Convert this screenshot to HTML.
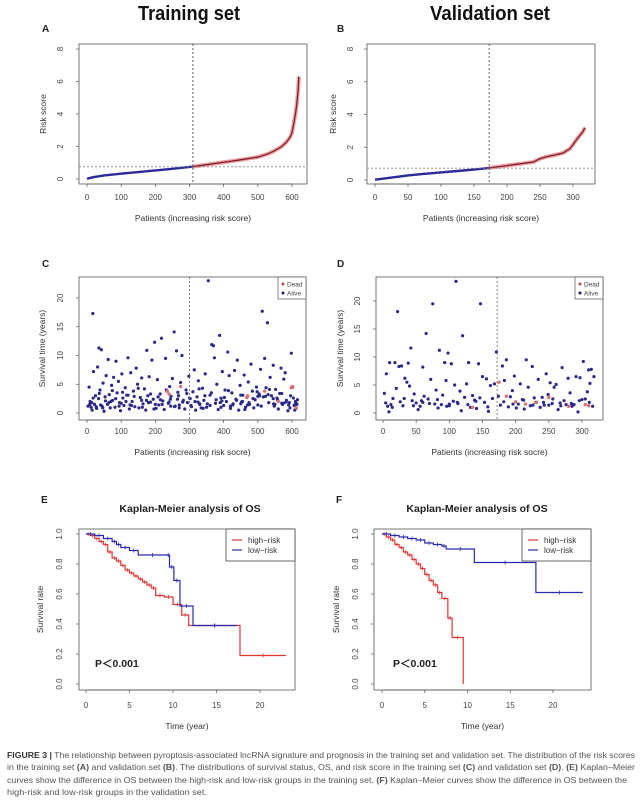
<!DOCTYPE html>
<html><head><meta charset="utf-8"><style>
html,body{margin:0;padding:0;background:#fff;}
svg{display:block;font-family:"Liberation Sans",Arial,sans-serif;}
</style></head><body>
<svg id="fig" width="643" height="800" viewBox="0 0 643 800" xmlns="http://www.w3.org/2000/svg">
<text x="189" y="20" font-size="20" font-weight="bold" text-anchor="middle" textLength="102" lengthAdjust="spacingAndGlyphs" fill="#111">Training set</text>
<text x="490" y="20" font-size="20" font-weight="bold" text-anchor="middle" textLength="120" lengthAdjust="spacingAndGlyphs" fill="#111">Validation set</text>
<g id="layer"></g>
<g font-size="8.6" fill="#555">
<text x="7" y="758" textLength="628" lengthAdjust="spacingAndGlyphs"><tspan font-weight="bold" fill="#333">FIGURE 3 |</tspan> The relationship between pyroptosis-associated lncRNA signature and prognosis in the training set and validation set. The distribution of the risk scores</text>
<text x="7" y="770" textLength="628" lengthAdjust="spacingAndGlyphs">in the training set <tspan font-weight="bold">(A)</tspan> and validation set <tspan font-weight="bold">(B)</tspan>. The distributions of survival status, OS, and risk score in the training set <tspan font-weight="bold">(C)</tspan> and validation set <tspan font-weight="bold">(D)</tspan>. <tspan font-weight="bold">(E)</tspan> Kaplan–Meier</text>
<text x="7" y="783" textLength="620" lengthAdjust="spacingAndGlyphs">curves show the difference in OS between the high-risk and low-risk groups in the training set. <tspan font-weight="bold">(F)</tspan> Kaplan–Meier curves show the difference in OS between the</text>
<text x="7" y="795" textLength="200" lengthAdjust="spacingAndGlyphs">high-risk and low-risk groups in the validation set.</text>
</g>
</svg>
<script>
// ---- Panel A/B: risk score curves ----
const aIdx = [0,20,50,100,150,200,250,300,310,350,400,450,500,530,550,570,585,595,600,605,610,614,618,620];
const aVal = [0.02,0.12,0.22,0.33,0.43,0.53,0.63,0.74,0.76,0.88,1.03,1.18,1.35,1.55,1.75,2.0,2.3,2.6,2.85,3.4,4.0,4.6,5.5,6.3];
const aCut = 310, aThr = 0.75;
const bIdx = [0,25,50,75,100,125,150,173,200,225,240,250,260,275,285,295,300,305,310,315,318];
const bVal = [0.02,0.15,0.28,0.38,0.46,0.55,0.64,0.74,0.88,1.02,1.1,1.3,1.42,1.55,1.65,1.9,2.15,2.45,2.7,2.95,3.2];
const bCut = 173, bThr = 0.72;
const riskTicksY = [0,2,4,6,8];
const aTicksX = [0,100,200,300,400,500,600];
const bTicksX = [0,50,100,150,200,250,300];

// ---- Panel C: survival scatter (training) ----
const cAliveX = [3,6,9,12,15,17,19,22,25,28, 31,34,35,38,42,44,47,50,53,56, 60,62,65,68,72,75,78,82,85,88, 92,95,98,102,105,108,112,116,120,124,
 128,132,136,140,144,148,152,156,160,164, 168,172,175,178,182,186,190,194,198,202, 206,210,214,218,222,226,230,234,238,242,
 246,250,255,258,262,266,270,274,278,282, 286,290,294,298,302,306,310,314,318,322, 326,330,334,338,342,346,350,355,360,365,
 370,373,376,380,384,388,392,396,400,404, 408,412,416,420,424,428,432,436,440,444, 448,452,456,460,464,468,472,476,480,484,
 488,492,496,500,504,508,513,516,520,524, 528,532,536,540,545,548,552,556,560,564, 568,572,576,580,584,588,592,596,598,602,
 606,608,610,612,614,616,14,40,70,100, 130,160,200,240,270,300,330,360,390,420, 450,470,500,530,550,570,590,610,120,180,
 215,265,325,345,395,455,505,545,575,245,
 8,18,27,36,46,54,64,74,84,94, 104,114,126,138,150,162,174,186,196,208, 220,232,244,256,268,280,292,304,316,328,
 340,352,364,378,392,402,414,426,438,450, 462,474,486,498,510,522,534,546,558,570, 582,594,604,614];
const cAliveY = [1.2,4.5,2.0,1.0,0.5,17.3,7.2,1.5,3.0,0.8, 8.0,2.5,11.3,4.0,11.0,1.2,5.2,0.3,2.8,6.5, 1.5,9.3,3.2,0.9,4.8,2.2,6.2,1.0,9.0,3.5, 5.5,1.8,0.4,6.8,2.6,1.3,4.4,3.1,9.6,0.7,
 7.0,2.0,3.8,1.1,7.8,5.0,0.9,2.7,6.1,1.6, 4.2,0.5,10.9,3.0,6.3,1.9,9.2,2.4,12.3,0.8, 5.8,1.4,3.3,13.0,2.1,0.6,9.5,3.8,1.7,4.6,
 2.9,6.0,14.1,1.2,10.8,3.6,0.9,5.3,10.0,2.2, 0.7,4.0,1.8,6.4,2.5,1.1,3.7,7.5,0.5,2.8, 5.6,1.5,0.9,4.3,2.2,6.8,1.0,23.0,3.1,11.9,
 11.7,9.6,1.7,5.0,0.6,13.5,2.6,7.2,1.3,4.0, 2.0,10.6,6.5,0.8,3.5,1.6,7.4,2.4,9.2,0.5, 4.8,1.9,3.1,6.6,1.0,2.7,5.4,1.5,8.5,3.8,
 0.9,2.3,4.5,1.4,3.3,7.6,17.7,2.8,9.5,4.4, 15.7,1.8,6.2,3.0,8.3,1.2,4.1,2.6,0.7,3.4, 7.8,1.5,5.9,7.0,2.2,0.4,1.8,3.0,10.4,4.5,
 1.3,0.5,2.0,0.8,1.6,2.3,1.8,1.4,2.0,1.7, 1.3,2.2,1.5,1.9,1.4,2.6,1.6,1.3,1.8,1.2, 1.6,1.4,2.9,3.2,1.5,1.7,1.4,1.6,3.1,1.8,
 2.3,2.4,1.9,3.0,2.1,2.0,3.0,2.5,1.7,1.2,
 1.5,2.6,1.1,3.4,0.9,2.1,1.8,3.9,2.5,1.2, 3.6,2.0,1.4,2.9,4.3,1.0,2.2,3.3,0.7,2.8, 1.5,4.0,2.4,1.1,3.0,1.9,3.4,1.3,2.0,4.2,
 0.8,1.6,3.5,2.3,1.0,2.7,3.9,1.4,2.2,3.1, 0.6,1.8,2.5,3.7,1.2,2.9,4.1,1.6,2.3,3.4, 1.9,0.9,2.6,1.5];
const cDeadX = [235,240,274,468,470,598,602,612,520,560];
const cDeadY = [3.8,3.3,4.6,2.7,3.0,4.4,4.6,0.9,3.8,2.0];
const cCut = 300;
const survTicksY = [0,5,10,15,20];

// ---- Panel D: survival scatter (validation) ----
const dAliveX = [2,5,7,9,10,12,15,18,20,22, 24,26,28,30,33,36,38,40,42,44, 47,50,53,56,60,62,65,68,72,75, 78,80,83,85,88,90,93,95,98,100,
 103,106,108,110,113,116,118,120,123,126, 129,132,135,138,141,144,147,150,153,156, 159,162,165,168,171,174,177,180,183,186,
 189,192,195,198,201,204,207,210,213,216, 219,222,225,228,231,234,237,240,243,246, 249,252,255,258,261,264,267,270,273,276,
 279,282,285,288,291,294,297,300,302,305, 308,310,312,314,316,318,140,60,100,250,
 4,14,32,46,58,70,82,96,112,128, 146,158,182,196,212,226,242,256,268,284, 296,311];
const dAliveY = [3.5,7.0,1.2,0.2,9.0,1.5,2.6,9.0,4.4,18.1, 8.3,2.0,8.4,1.3,6.2,5.5,8.9,4.8,11.6,2.2, 3.4,1.8,0.6,1.2,8.2,3.0,14.2,2.5,6.0,19.5, 1.6,4.1,0.9,11.2,1.5,3.2,9.0,5.8,10.7,1.3,
 8.8,2.1,5.0,23.5,1.7,3.9,0.4,13.8,2.8,5.2, 9.0,1.0,3.1,2.3,0.8,8.8,19.5,6.5,1.9,6.1, 0.3,4.9,2.6,5.2,10.9,3.0,1.4,8.4,5.8,9.5,
 1.1,2.9,4.0,6.6,0.9,1.6,5.2,2.4,0.7,9.5, 4.6,1.3,8.3,2.7,1.9,6.0,1.0,2.8,1.4,7.0, 3.3,5.4,1.7,4.6,5.1,0.6,1.8,8.1,2.2,1.5,
 6.2,3.6,1.2,1.5,6.5,0.2,6.3,2.4,9.2,2.5, 3.8,7.7,5.3,7.8,1.2,6.5,2.1,1.9,1.6,1.4,
 1.8,1.0,2.6,1.3,2.2,1.7,2.4,1.2,1.9,1.5, 2.7,1.1,2.0,1.6,2.3,1.4,1.9,2.5,1.3,1.7, 2.2,1.9];
const dDeadX = [175,200,215,250,305,310,186,230,280,135];
const dDeadY = [5.5,2.0,1.6,2.8,1.5,1.3,3.0,1.9,1.2,1.0];
const dCut = 172;
const dTicksX = [0,50,100,150,200,250,300];

// ---- Panel E/F: Kaplan-Meier ----
const eHighT = [0,0.5,1,1.5,2,2.5,3,3.5,4,4.5,5,5.5,6,6.5,7,7.5,8,9,10,11,11.8,17.7,23];
const eHighS = [1,0.99,0.97,0.95,0.93,0.88,0.84,0.82,0.79,0.76,0.74,0.72,0.70,0.68,0.66,0.64,0.59,0.58,0.53,0.46,0.39,0.19,0.19];
const eLowT = [0,1,2,3,3.5,4,5,6,9.3,9.6,10.1,10.8,12.3,17.3];
const eLowS = [1,0.99,0.97,0.95,0.93,0.91,0.89,0.86,0.86,0.78,0.69,0.52,0.39,0.39];
const fHighT = [0,0.5,1,1.5,2,2.5,3,3.5,4,4.5,5,5.5,6,6.5,7,7.7,8.2,9.5];
const fHighS = [1,0.98,0.96,0.93,0.91,0.88,0.86,0.83,0.80,0.77,0.73,0.69,0.66,0.61,0.57,0.44,0.31,0];
const fLowT = [0,1,2,3,4,5,6,7,7.5,10.8,18,23.5];
const fLowS = [1,0.99,0.98,0.97,0.96,0.94,0.93,0.92,0.90,0.81,0.61,0.61];
const kmTicksX = [0,5,10,15,20];
const kmTicksY = [0,0.2,0.4,0.6,0.8,1.0];
const kmTickLabels = ["0.0","0.2","0.4","0.6","0.8","1.0"];

const NS = "http://www.w3.org/2000/svg";
const layer = document.getElementById('layer');
function mk(tag, attrs, parent, txt){
  const e = document.createElementNS(NS, tag);
  for (const k in attrs) e.setAttribute(k, attrs[k]);
  if (txt !== undefined) e.textContent = txt;
  (parent || layer).appendChild(e);
  return e;
}
function lin(d0,d1,r0,r1){ return v => r0 + (v-d0)*(r1-r0)/(d1-d0); }

function frame(name, box, sx, sy, xt, yt, ylabels, xtitle, ytitle, letter, tickY, ytitleX, ytickX){
  const g = mk('g', {});
  
  
  const r = mk('rect', {x:box.l, y:box.t, width:box.r-box.l, height:box.b-box.t, fill:'none', stroke:'#555', 'stroke-width':0.8}, g);
  
  
  const xa = mk('g', {fill:'#444', 'font-size':8}, g);
  
  
  mk('line', {x1:sx(xt[0]), x2:sx(xt[xt.length-1]), y1:box.b, y2:box.b, stroke:'#555','stroke-width':0.7}, xa);
  xt.forEach(v => {
    mk('line', {x1:sx(v), x2:sx(v), y1:box.b, y2:box.b+3, stroke:'#555','stroke-width':0.7}, xa);
    mk('text', {x:sx(v), y:tickY, 'text-anchor':'middle'}, xa, String(v));
  });
  const ya = mk('g', {fill:'#444', 'font-size':8}, g);
  
  
  yt.forEach((v,i) => {
    mk('line', {x1:box.l-3, x2:box.l, y1:sy(v), y2:sy(v), stroke:'#555','stroke-width':0.7}, ya);
    mk('text', {x:ytickX, y:sy(v), 'text-anchor':'middle', transform:`rotate(-90 ${ytickX} ${sy(v)})`}, ya, ylabels ? ylabels[i] : String(v));
  });
  const xtl = mk('text', {x:(box.l+box.r)/2, y:tickY+21, 'text-anchor':'middle', 'font-size':8.5, fill:'#333'}, g, xtitle);
  
  
  const cy = (box.t+box.b)/2;
  const ytl = mk('text', {x:ytitleX, y:cy, 'text-anchor':'middle', 'font-size':8.5, fill:'#333', transform:`rotate(-90 ${ytitleX} ${cy})`}, g, ytitle);
  
  
  const lt = mk('text', {x:letter[0], y:letter[1], 'font-size':10, 'font-weight':'bold', fill:'#222'}, g, letter[2]);
  
  
  return g;
}

function riskPanel(name, box, xmax0, xmax1, idx, val, cut, thr, xt, letter, ytX, ytkX){
  const sx = lin(xmax0[0], xmax0[1], xmax1[0], xmax1[1]);
  const sy = lin(0, 8, box.b0, box.b8);
  const g = frame(name, box, sx, sy, xt, riskTicksY, null, 'Patients (increasing risk score)', 'Risk score', letter, 200, ytX, ytkX);
  const low = [], high = [];
  idx.forEach((v,i) => { const p = sx(v)+','+sy(val[i]); if (v <= cut) low.push(p); if (v >= cut) high.push(p); });
  const h = mk('polyline', {points:high.join(' '), fill:'none', stroke:'#f2a0a0', 'stroke-width':4, 'stroke-linejoin':'round'}, g);
  
  
  mk('polyline', {points:high.join(' '), fill:'none', stroke:'#7a2030', 'stroke-width':1.3}, g);
  const l = mk('polyline', {points:low.join(' '), fill:'none', stroke:'#2a2a9a', 'stroke-width':2.4, 'stroke-linejoin':'round'}, g);
  
  
  const hl = mk('line', {x1:box.l, x2:box.r, y1:sy(thr), y2:sy(thr), stroke:'#888', 'stroke-dasharray':'2,2', 'stroke-width':0.9}, g);
  
  
  const vl = mk('line', {x1:sx(cut), x2:sx(cut), y1:box.t, y2:box.b, stroke:'#555', 'stroke-dasharray':'2,2', 'stroke-width':0.9}, g);
  
  
}
riskPanel('panel-a-risk-score', {l:79,r:307,t:44,b:184,b0:179,b8:49}, [0,600], [87,292], aIdx, aVal, aCut, aThr, aTicksX, [42,32,'A'], 46, 63);
riskPanel('panel-b-risk-score', {l:367,r:595,t:44,b:184,b0:180,b8:49}, [0,300], [375,573], bIdx, bVal, bCut, bThr, bTicksX, [337,32,'B'], 336, 353);

function scatterPanel(name, box, xd, xr, ys, ax, ay, dx, dy, cut, xt, letter, ytX, ytkX, leg){
  const sx = lin(xd[0], xd[1], xr[0], xr[1]);
  const sy = lin(0, 20, ys[0], ys[1]);
  const g = frame(name, box, sx, sy, xt, survTicksY, null, 'Patients (increasing risk socre)', 'Survival time (years)', letter, 434, ytX, ytkX);
  ax.forEach((v,i) => {
    const c = mk('circle', {cx:sx(v), cy:sy(ay[i]), r:1.6, fill:'#2b2a8a'}, g);
    
    
  });
  dx.forEach((v,i) => {
    const c = mk('circle', {cx:sx(v), cy:sy(dy[i]), r:1.7, fill:'#e07070'}, g);
    
    
  });
  const vl = mk('line', {x1:sx(cut), x2:sx(cut), y1:box.t, y2:box.b, stroke:'#777', 'stroke-dasharray':'2,2', 'stroke-width':0.9}, g);
  
  
  const lg = mk('g', {}, g);
  
  
  mk('rect', {x:leg, y:box.t, width:box.r-leg, height:22, fill:'#fff', stroke:'#555', 'stroke-width':0.7}, lg);
  mk('circle', {cx:leg+5, cy:box.t+7, r:1.5, fill:'#c05050'}, lg);
  mk('text', {x:leg+9, y:box.t+9.5, 'font-size':6.5, fill:'#444'}, lg, 'Dead');
  mk('circle', {cx:leg+5, cy:box.t+16, r:1.5, fill:'#1d1d6a'}, lg);
  mk('text', {x:leg+9, y:box.t+18.5, 'font-size':6.5, fill:'#444'}, lg, 'Alive');
}
scatterPanel('panel-c-survival-status', {l:79,r:306,t:277,b:420}, [0,600], [87,292], [413,298], cAliveX, cAliveY, cDeadX, cDeadY, cCut, aTicksX, [42,267,'C'], 45, 63, 278);
scatterPanel('panel-d-survival-status', {l:376,r:603,t:277,b:420}, [0,300], [383,582], [413,301], dAliveX, dAliveY, dDeadX, dDeadY, dCut, dTicksX, [337,267,'D'], 343, 360, 575);

function kmPanel(name, box, xr, ht, hs, lt, ls, letter, titleX, ytX, ytkX, leg, px){
  const sx = lin(0, 20, xr[0], xr[1]);
  const sy = lin(0, 1, 684, 534);
  const g = frame(name, box, sx, sy, kmTicksX, kmTicksY, kmTickLabels, 'Time (year)', 'Survival rate', letter, 708, ytX, ytkX);
  const t = mk('text', {x:titleX, y:512, 'text-anchor':'middle', 'font-size':10.5, 'font-weight':'bold', fill:'#222'}, g, 'Kaplan-Meier analysis of OS');
  
  
  function step(T, S, color, nm){
    let d = `M${sx(T[0])},${sy(S[0])}`;
    for (let i=1;i<T.length;i++){ d += ` H${sx(T[i])} V${sy(S[i])}`; }
    const p = mk('path', {d, fill:'none', stroke:color, 'stroke-width':1.2}, g);
    
    
    for (let i=1;i<T.length;i++){
      const xm = (sx(T[i-1])+sx(T[i]))/2;
      mk('line', {x1:xm, x2:xm, y1:sy(S[i-1])-2, y2:sy(S[i-1])+2, stroke:color, 'stroke-width':0.8}, g);
    }
  }
  step(ht, hs, '#e03535', 'high-risk-curve');
  step(lt, ls, '#2a2ab0', 'low-risk-curve');
  const lg = mk('g', {}, g);
  
  
  mk('rect', {x:leg, y:box.t, width:box.r-leg, height:32, fill:'#fff', stroke:'#444', 'stroke-width':0.8}, lg);
  mk('line', {x1:leg+6, x2:leg+16, y1:box.t+11, y2:box.t+11, stroke:'#e03535', 'stroke-width':1.2}, lg);
  mk('text', {x:leg+22, y:box.t+14, 'font-size':8, fill:'#333'}, lg, 'high−risk');
  mk('line', {x1:leg+6, x2:leg+16, y1:box.t+21, y2:box.t+21, stroke:'#2a2ab0', 'stroke-width':1.2}, lg);
  mk('text', {x:leg+22, y:box.t+24, 'font-size':8, fill:'#333'}, lg, 'low−risk');
  const p = mk('text', {x:px, y:667, 'font-size':10.5, 'font-weight':'bold', fill:'#222'}, g, 'P＜0.001');
  
  
}
kmPanel('panel-e-km-training', {l:79,r:295,t:529,b:690}, [86,260], eHighT, eHighS, eLowT, eLowS, [41,503,'E'], 190, 43, 62, 226, 95);
kmPanel('panel-f-km-validation', {l:374,r:591,t:529,b:690}, [382,553], fHighT, fHighS, fLowT, fLowS, [336,503,'F'], 477, 339, 358, 522, 393);
</script>
</body></html>
